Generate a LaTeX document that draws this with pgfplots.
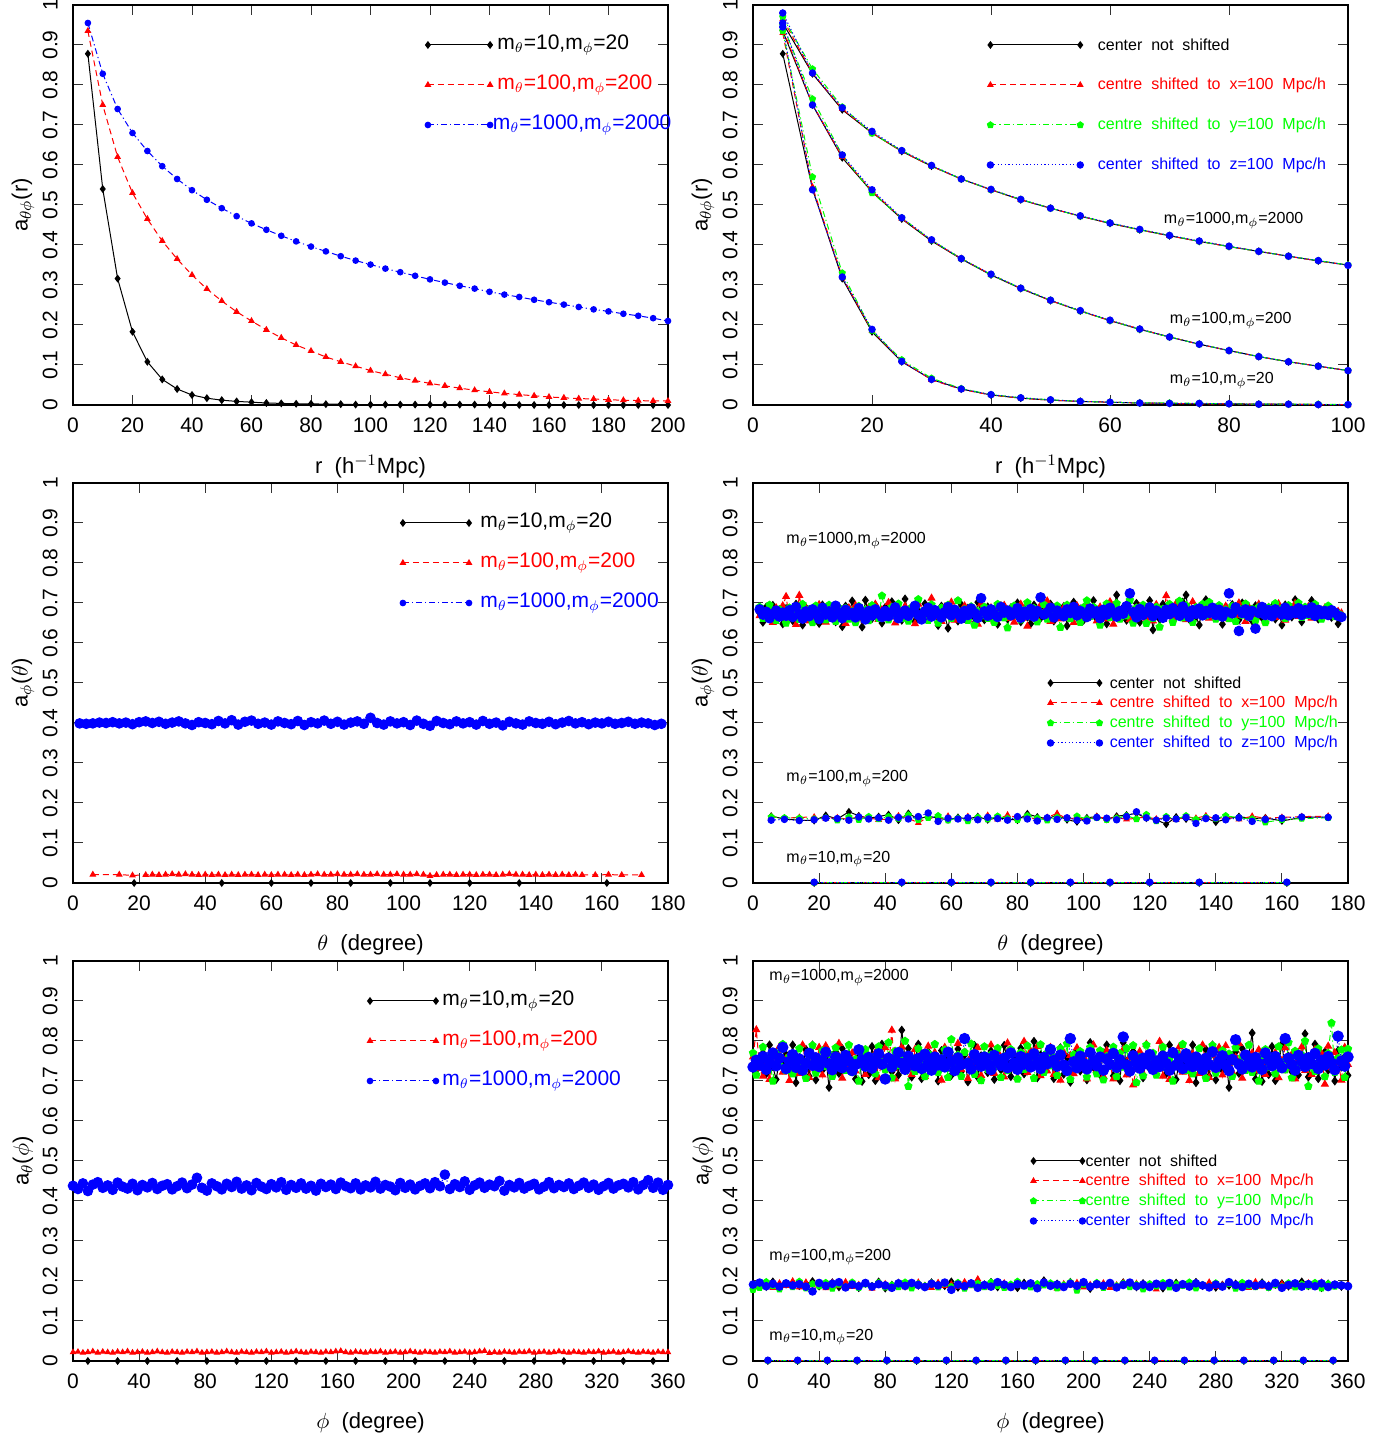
\documentclass[border=0pt]{standalone}
\usepackage{fontspec}
\setmainfont{Liberation Sans}
\usepackage{pgfplots}
\usepackage{pgfplotstable}
\pgfplotsset{compat=1.18}

% panel 1: a_thetaphi(r), r in h^-1 Mpc
\pgfplotstableread{
x k r b
5 .878 .935 .955
10 .540 .750 .828
15 .316 .620 .740
20 .183 .530 .680
25 .108 .465 .635
30 .064 .410 .597
35 .040 .365 .565
40 .025 .325 .537
45 .017 .290 .513
50 .012 .260 .492
55 .009 .233 .472
60 .007 .210 .454
65 .005 .188 .438
70 .004 .168 .423
75 .003 .150 .409
80 .003 .135 .396
85 .002 .120 .384
90 .002 .108 .372
95 .001 .097 .361
100 .001 .086 .351
105 .001 .077 .341
110 .001 .068 .332
115 .001 .061 .323
120 .001 .054 .314
125 .001 .048 .306
130 .001 .042 .298
135 .001 .037 .291
140 .001 .033 .283
145 .000 .029 .276
150 .000 .026 .270
155 .000 .023 .263
160 .000 .020 .257
165 .000 .018 .251
170 .000 .016 .245
175 .000 .015 .239
180 .000 .013 .234
185 .000 .012 .228
190 .000 .011 .223
195 .000 .010 .217
200 .000 .010 .210
}\rA

% panel 2: three mass groups, four centres each
\pgfplotstableread{
x k r g b
5 .955 .965 .970 .980
10 .828 .830 .840 .830
15 .738 .740 .745 .743
20 .680 .680 .679 .684
25 .634 .634 .636 .636
30 .597 .597 .598 .599
35 .565 .565 .565 .565
40 .538 .538 .538 .539
45 .513 .513 .514 .514
50 .492 .492 .492 .492
55 .472 .472 .472 .473
60 .454 .454 .455 .455
65 .438 .438 .438 .439
70 .423 .423 .424 .424
75 .409 .409 .409 .410
80 .396 .396 .396 .397
85 .384 .384 .384 .384
90 .372 .372 .372 .372
95 .360 .360 .361 .361
100 .350 .350 .350 .349
}\rBa
\pgfplotstableread{
x k r g b
5 .935 .940 .950 .955
10 .750 .752 .765 .750
15 .618 .620 .625 .625
20 .533 .535 .530 .538
25 .465 .466 .468 .468
30 .410 .411 .412 .413
35 .365 .366 .366 .366
40 .325 .326 .326 .327
45 .291 .292 .292 .292
50 .261 .261 .262 .262
55 .235 .235 .235 .236
60 .211 .211 .211 .212
65 .189 .190 .189 .190
70 .170 .170 .170 .170
75 .152 .152 .152 .152
80 .136 .136 .136 .136
85 .121 .121 .121 .121
90 .108 .108 .108 .108
95 .097 .097 .097 .097
100 .086 .086 .086 .086
}\rBb
\pgfplotstableread{
x k r g b
5 .878 .930 .935 .945
10 .540 .545 .570 .538
15 .316 .320 .330 .320
20 .183 .185 .186 .189
25 .108 .110 .113 .109
30 .064 .063 .067 .064
35 .040 .039 .041 .040
40 .025 .025 .026 .026
45 .017 .017 .018 .018
50 .012 .012 .013 .013
55 .009 .009 .009 .009
60 .007 .007 .007 .007
65 .005 .005 .005 .005
70 .004 .004 .005 .004
75 .003 .003 .004 .004
80 .003 .003 .003 .003
85 .002 .002 .002 .002
90 .002 .002 .002 .002
95 .001 .001 .002 .001
100 .001 .001 .001 .001
}\rBc

% panel 3: a_phi(theta)
\pgfplotstableread{
x b r
2 .399 nan
4 .398 nan
6 .399 .021
8 .401 nan
10 .400 nan
12 .402 nan
14 .399 .021
16 .401 nan
18 .397 .019
20 .402 nan
22 .404 .020
24 .400 .021
26 .403 .020
28 .398 .021
30 .401 .022
32 .404 .021
34 .399 .022
36 .395 .021
38 .402 .020
40 .400 .021
42 .397 .020
44 .405 .021
46 .399 .020
48 .407 .021
50 .396 .020
52 .403 .021
54 .406 .021
56 .398 .020
58 .401 .021
60 .396 .020
62 .404 .021
64 .400 .021
66 .397 .020
68 .405 .021
70 .395 .020
72 .402 .021
74 .399 .022
76 .406 .021
78 .398 .021
80 .403 .022
82 .396 .021
84 .401 .021
86 .404 .022
88 .398 .021
90 .413 .021
92 .400 .022
94 .396 .021
96 .404 .021
98 .399 .022
100 .402 .021
102 .395 .021
104 .406 .022
106 .398 .021
108 .393 .018
110 .405 .020
112 .400 .021
114 .397 .021
116 .404 .020
118 .399 .021
120 .402 .021
122 .396 .020
124 .405 .021
126 .398 .021
128 .401 .020
130 .394 .021
132 .403 .022
134 .399 .021
136 .396 .021
138 .404 .020
140 .400 .021
142 .398 .020
144 .403 .021
146 .397 .020
148 .401 .021
150 .405 .020
152 .399 .021
154 .402 .020
156 .397 nan
158 .401 .020
160 .399 nan
162 .403 .021
164 .398 nan
166 .400 .020
168 .403 nan
170 .398 nan
172 .401 .020
174 .399 nan
176 .395 nan
178 .398 nan
}\thC

% theta positions of the m=10 points (value ~0)
\pgfplotstableread{
x k r g b
18.5 0 .001 .001 .002
45 0 .001 .001 .002
60 0 .001 .001 .002
72 0 .001 .001 .002
84 0 .001 .001 .002
96 0 .001 .001 .002
108 0 .001 .001 .002
120 0 .001 .001 .002
135 0 .001 .001 .002
161.5 0 .001 .001 .002
}\thZ

% panel 4: m=1000 group
\pgfplotstableread{
x k r g b
2 .675 .668 .690 .684
3 .652 .681 .662 .671
4 .690 .660 .676 .678
5 .668 .675 .695 .662
6 .694 .651 .668 .673
7 .663 .688 .657 .681
8 .679 .670 .684 .666
9 .648 .693 .671 .676
10 .686 .716 .650 .668
11 .671 .662 .688 .682
12 .656 .680 .664 .665
13 .697 .646 .679 .690
14 .674 .719 .659 .672
15 .645 .672 .697 .661
16 .688 .687 .670 .679
17 .660 .655 .684 .667
18 .682 .679 .651 .684
19 .671 .664 .693 .674
20 .649 .696 .666 .660
21 .695 .670 .680 .688
22 .676 .652 .658 .671
23 .664 .684 .695 .679
24 .687 .667 .672 .664
25 .653 .691 .654 .693
26 .679 .660 .688 .676
27 .641 .678 .670 .662
28 .692 .649 .687 .683
29 .667 .688 .660 .670
30 .705 .671 .679 .675
31 .658 .694 .651 .664
32 .684 .662 .692 .687
33 .640 .680 .666 .672
34 .707 .655 .683 .659
35 .672 .689 .656 .680
36 .661 .668 .694 .669
37 .694 .697 .673 .684
38 .676 .659 .662 .673
39 .650 .683 .718 .665
40 .689 .666 .677 .680
41 .663 .701 .658 .667
42 .703 .677 .690 .676
43 .669 .650 .671 .689
44 .683 .686 .698 .662
45 .657 .663 .662 .674
46 .710 .692 .681 .681
47 .672 .669 .655 .668
48 .690 .682 .689 .677
49 .654 .648 .673 .693
50 .679 .697 .709 .670
51 .665 .674 .664 .659
52 .698 .658 .683 .679
53 .662 .688 .657 .688
54 .681 .712 .696 .666
55 .671 .665 .671 .682
56 .644 .679 .650 .673
57 .692 .654 .688 .664
58 .668 .690 .675 .677
59 .637 .670 .695 .690
60 .685 .702 .662 .669
61 .673 .657 .680 .683
62 .655 .681 .706 .674
63 .696 .668 .666 .661
64 .661 .693 .684 .680
65 .687 .659 .657 .670
66 .670 .685 .691 .686
67 .649 .671 .645 .675
68 .702 .647 .679 .663
69 .676 .698 .668 .712
70 .658 .676 .690 .679
71 .690 .663 .662 .668
72 .666 .688 .681 .684
73 .681 .655 .652 .672
74 .647 .682 .697 .665
75 .693 .670 .674 .690
76 .672 .694 .663 .676
77 .660 .661 .638 .681
78 .688 .685 .685 .669
79 .671 .652 .693 .674
80 .700 .677 .670 .687
81 .653 .697 .658 .663
82 .684 .666 .682 .678
83 .665 .642 .701 .670
84 .648 .688 .667 .685
85 .695 .673 .687 .666
86 .674 .660 .653 .680
87 .662 .695 .676 .714
88 .686 .678 .696 .671
89 .670 .705 .660 .676
90 .697 .654 .683 .688
91 .655 .686 .668 .664
92 .680 .671 .693 .681
93 .668 .660 .639 .672
94 .691 .689 .677 .667
95 .643 .665 .695 .684
96 .678 .682 .661 .675
97 .702 .651 .683 .690
98 .664 .693 .671 .669
99 .685 .676 .652 .680
100 .657 .663 .689 .673
101 .693 .700 .706 .665
102 .671 .670 .667 .686
103 .706 .682 .690 .674
104 .660 .655 .671 .679
105 .682 .690 .645 .662
106 .667 .672 .684 .683
107 .648 .660 .698 .671
108 .694 .703 .664 .688
109 .677 .647 .686 .676
110 .720 .688 .699 .666
111 .663 .666 .660 .680
112 .689 .684 .681 .673
113 .657 .697 .668 .692
114 .681 .658 .707 .724
115 .670 .679 .650 .677
116 .699 .664 .688 .664
117 .652 .691 .671 .685
118 .684 .675 .695 .670
119 .668 .662 .649 .678
120 .706 .686 .686 .689
121 .633 .655 .662 .667
122 .685 .696 .690 .681
123 .660 .671 .640 .674
124 .697 .659 .685 .663
125 .673 .718 .672 .683
126 .688 .680 .697 .672
127 .655 .661 .652 .687
128 .692 .699 .680 .676
129 .671 .667 .705 .668
130 .702 .694 .663 .691
131 .720 .658 .694 .679
132 .659 .684 .676 .665
133 .681 .703 .652 .682
134 .666 .672 .689 .673
135 .645 .688 .671 .686
136 .689 .670 .697 .669
137 .708 .686 .668 .680
138 .676 .662 .702 .675
139 .691 .679 .680 .688
140 .668 .674 .660 .670
141 .672 .681 .694 .683
142 .647 .675 .670 .666
143 .685 .692 .683 .678
144 .664 .660 .661 .724
145 .696 .687 .692 .674
146 .674 .668 .654 .689
147 .658 .700 .687 .630
148 .700 .673 .670 .675
149 .669 .654 .698 .684
150 .687 .690 .664 .668
151 .655 .677 .685 .680
152 .693 .664 .656 .636
153 .678 .697 .690 .675
154 .663 .671 .673 .690
155 .688 .655 .651 .670
156 .671 .689 .689 .682
157 .690 .676 .666 .667
158 .660 .664 .699 .684
159 .683 .698 .675 .676
160 .645 .670 .687 .671
161 .695 .657 .662 .688
162 .677 .689 .694 .669
163 .665 .675 .671 .680
164 .708 .699 .683 .674
165 .672 .666 .700 .687
166 .653 .684 .664 .670
167 .686 .670 .690 .682
168 .669 .691 .669 .675
169 .706 .662 .685 .689
170 .678 .680 .697 .668
171 .660 .671 .673 .683
172 .682 .676 .660 .672
173 .671 .688 .684 .680
174 .690 .668 .693 .670
175 .664 .680 .672 .682
176 .676 .673 .666 .676
177 .648 .679 .674 .668
178 .670 .675 .669 .665
}\thA

% panel 4: m=100 group
\pgfplotstableread{
x k r g b
5.5 .167 .166 .165 .157
9.5 .160 .162 .163 .159
14 .157 .164 .162 .156
18.5 .156 .165 .160 .158
22 .169 .161 .163 .162
25.5 .160 .163 .157 .161
29 .178 .159 .165 .157
32 .168 .166 .158 .165
35 .162 .163 .166 .160
38 .166 .158 .160 .163
41 .171 .160 .166 .157
44 .157 .168 .161 .164
47 .174 .162 .170 .160
50 .160 .150 .158 .166
53 .167 .165 .163 .175
56 .162 .158 .168 .154
59 .158 .167 .157 .162
62 .164 .161 .162 .160
65 .160 .166 .155 .163
68 .166 .160 .164 .158
71 .158 .169 .159 .164
74 .163 .159 .167 .161
77 .160 .170 .161 .157
80 .157 .163 .158 .166
83 .173 .165 .168 .160
86 .165 .159 .162 .155
89 .161 .164 .157 .163
92 .169 .174 .164 .159
95 .158 .160 .161 .163
98 .153 .163 .167 .157
101 .163 .158 .160 .155
104 .166 .166 .163 .164
107 .159 .161 .158 .162
110 .167 .164 .162 .158
113 .170 .159 .168 .166
116 .174 .162 .160 .178
119 .162 .165 .171 .163
122 .158 .160 .155 .157
125 .147 .163 .166 .162
128 .165 .158 .160 .160
131 .160 .166 .168 .164
134 .156 .162 .159 .149
137 .163 .168 .164 .161
140 .152 .160 .161 .163
143 .160 .165 .168 .158
147 .166 .159 .163 .163
151 .161 .167 .160 .154
155 .163 .162 .152 .159
160 .155 .164 .158 .162
166 .164 .166 .161 .165
174 .165 .167 .163 .164
}\thB

% panel 5: a_theta(phi)
\pgfplotstableread{
x b r
0 .438 .022
3 .430 .023
6 .444 .021
9 .425 .022
12 .441 .024
15 .447 .021
18 .433 .023
21 .439 .022
24 .428 .021
27 .446 .023
30 .436 .022
33 .431 .024
36 .443 .021
39 .427 .022
42 .440 .023
45 .434 .021
48 .445 .022
51 .430 .024
54 .438 .022
57 .442 .021
60 .429 .023
63 .437 .022
66 .446 .021
69 .432 .023
72 .441 .022
75 .458 .024
78 .433 .021
81 .426 .022
84 .444 .023
87 .437 .021
90 .429 .022
93 .443 .024
96 .435 .022
99 .448 .021
102 .431 .023
105 .439 .022
108 .427 .021
111 .445 .023
114 .436 .022
117 .430 .024
120 .442 .021
123 .434 .022
126 .447 .023
129 .428 .021
132 .440 .022
135 .433 .024
138 .444 .022
141 .431 .021
144 .438 .023
147 .426 .022
150 .443 .021
153 .435 .023
156 .441 .022
159 .430 .024
162 .446 .025
165 .437 .022
168 .432 .021
171 .444 .023
174 .429 .022
177 .439 .021
180 .434 .023
183 .448 .022
186 .431 .024
189 .440 .021
192 .436 .022
195 .427 .023
198 .445 .021
201 .433 .022
204 .441 .024
207 .429 .022
210 .438 .021
213 .444 .023
216 .432 .022
219 .447 .021
222 .437 .023
225 .466 .022
228 .430 .024
231 .442 .021
234 .435 .022
237 .449 .023
240 .428 .021
243 .439 .022
246 .446 .024
249 .433 .025
252 .441 .020
255 .437 .022
258 .450 .021
261 .426 .023
264 .440 .022
267 .434 .021
270 .445 .023
273 .431 .022
276 .438 .024
279 .443 .021
282 .429 .022
285 .436 .023
288 .447 .021
291 .432 .022
294 .440 .024
297 .435 .022
300 .444 .021
303 .430 .023
306 .438 .022
309 .446 .021
312 .433 .023
315 .441 .022
318 .428 .024
321 .437 .021
324 .445 .022
327 .431 .023
330 .439 .021
333 .443 .022
336 .434 .024
339 .447 .022
342 .429 .021
345 .440 .023
348 .452 .022
351 .433 .021
354 .446 .023
357 .428 .022
360 .440 .022
}\phC

% phi positions of the m=10 points (value ~0)
\pgfplotstableread{
x k r g b
9 0 .001 .001 .002
27 0 .001 .001 .002
45 0 .001 .001 .002
63 0 .001 .001 .002
81 0 .001 .001 .002
99 0 .001 .001 .002
117 0 .001 .001 .002
135 0 .001 .001 .002
153 0 .001 .001 .002
171 0 .001 .001 .002
189 0 .001 .001 .002
207 0 .001 .001 .002
225 0 .001 .001 .002
243 0 .001 .001 .002
261 0 .001 .001 .002
279 0 .001 .001 .002
297 0 .001 .001 .002
315 0 .001 .001 .002
333 0 .001 .001 .002
351 0 .001 .001 .002
}\phZ

% panel 6: m=1000 group
\pgfplotstableread{
x k r g b
0 .742 .760 .770 .735
2 .728 .828 .715 .752
4 .755 .731 .748 .740
6 .770 .712 .785 .761
8 .718 .749 .733 .729
10 .790 .704 .756 .748
12 .736 .772 .700 .770
14 .704 .741 .770 .738
16 .752 .786 .739 .757
18 .741 .722 .792 .784
20 .766 .757 .726 .731
22 .729 .701 .761 .749
24 .790 .768 .718 .766
26 .696 .735 .752 .734
28 .758 .719 .781 .755
30 .733 .790 .744 .727
32 .779 .745 .707 .744
34 .712 .709 .765 .769
36 .790 .764 .789 .739
38 .703 .730 .720 .758
40 .748 .784 .752 .736
42 .727 .715 .776 .751
44 .761 .788 .737 .772
46 .684 .740 .768 .743
48 .750 .722 .712 .728
50 .773 .759 .783 .760
52 .719 .794 .741 .745
54 .781 .707 .760 .733
56 .738 .743 .727 .764
58 .765 .736 .790 .750
60 .745 .770 .722 .726
62 .705 .725 .754 .741
64 .760 .778 .700 .778
66 .699 .744 .764 .753
68 .749 .716 .779 .737
70 .716 .763 .735 .759
72 .786 .738 .760 .732
74 .701 .771 .718 .748
76 .744 .708 .786 .768
78 .792 .751 .747 .742
80 .730 .783 .728 .705
82 .762 .732 .796 .757
84 .723 .827 .708 .735
86 .771 .705 .775 .752
88 .715 .753 .738 .771
90 .827 .785 .765 .744
92 .755 .726 .800 .729
94 .781 .760 .687 .762
96 .710 .716 .758 .747
98 .750 .779 .724 .738
100 .792 .743 .781 .756
102 .706 .769 .744 .731
104 .744 .711 .711 .767
106 .773 .787 .769 .746
108 .727 .733 .731 .727
110 .758 .771 .792 .760
112 .700 .747 .722 .740
114 .776 .702 .757 .753
116 .735 .784 .778 .735
118 .760 .741 .709 .772
120 .714 .759 .804 .749
122 .751 .722 .733 .726
124 .780 .794 .765 .758
126 .723 .729 .712 .741
128 .765 .772 .772 .806
130 .698 .706 .740 .745
132 .745 .762 .793 .730
134 .789 .739 .717 .766
136 .709 .783 .758 .751
138 .763 .714 .701 .737
140 .742 .757 .786 .760
142 .721 .736 .729 .744
144 .775 .790 .766 .728
146 .704 .719 .737 .764
148 .752 .773 .782 .748
150 .728 .744 .709 .739
152 .789 .710 .761 .757
154 .747 .795 .726 .733
156 .711 .730 .779 .770
158 .760 .768 .747 .745
160 .733 .709 .705 .729
162 .782 .755 .771 .761
164 .718 .799 .729 .742
166 .756 .721 .788 .756
168 .738 .775 .744 .735
170 .799 .740 .707 .768
172 .708 .786 .763 .747
174 .765 .713 .791 .731
176 .726 .762 .722 .759
178 .748 .725 .770 .743
180 .771 .784 .738 .779
182 .706 .716 .759 .752
184 .745 .752 .714 .737
186 .783 .702 .781 .765
188 .717 .771 .736 .740
190 .759 .735 .793 .726
192 .697 .764 .704 .806
194 .741 .718 .766 .748
196 .776 .783 .731 .733
198 .725 .731 .774 .762
200 .757 .761 .745 .744
202 .703 .705 .710 .730
204 .796 .767 .784 .771
206 .734 .790 .743 .749
208 .752 .727 .718 .738
210 .716 .756 .776 .760
212 .770 .712 .703 .727
214 .790 .776 .762 .755
216 .739 .742 .737 .742
218 .713 .705 .785 .769
220 .767 .761 .711 .734
222 .701 .733 .769 .753
224 .796 .779 .735 .810
226 .748 .715 .782 .740
228 .720 .760 .724 .725
230 .774 .690 .789 .763
232 .740 .735 .696 .746
234 .762 .774 .760 .732
236 .708 .719 .713 .757
238 .755 .792 .790 .743
240 .731 .745 .758 .766
242 .752 .760 .770 .729
244 .728 .728 .715 .750
246 .755 .799 .748 .736
248 .770 .712 .785 .762
250 .718 .749 .733 .744
252 .790 .704 .756 .727
254 .736 .772 .700 .771
256 .704 .741 .770 .740
258 .752 .786 .739 .755
260 .741 .722 .792 .731
262 .766 .757 .726 .768
264 .729 .701 .761 .749
266 .790 .768 .718 .736
268 .696 .735 .752 .760
270 .758 .719 .781 .745
272 .733 .790 .744 .728
274 .779 .745 .707 .757
276 .712 .709 .765 .741
278 .790 .764 .789 .773
280 .703 .730 .720 .734
282 .748 .784 .752 .750
284 .727 .715 .776 .763
286 .761 .788 .737 .739
288 .684 .740 .768 .726
290 .750 .722 .712 .754
292 .773 .759 .783 .803
294 .719 .794 .741 .742
296 .781 .707 .760 .730
298 .738 .743 .727 .765
300 .765 .736 .790 .748
302 .820 .770 .722 .735
304 .705 .725 .754 .759
306 .760 .778 .700 .744
308 .699 .744 .764 .729
310 .749 .716 .779 .770
312 .716 .763 .735 .752
314 .786 .738 .760 .738
316 .701 .771 .718 .761
318 .744 .708 .786 .746
320 .792 .751 .747 .733
322 .730 .783 .728 .806
324 .762 .732 .796 .757
326 .723 .767 .708 .741
328 .771 .705 .775 .727
330 .715 .753 .738 .764
332 .755 .785 .765 .749
334 .818 .726 .800 .736
336 .710 .760 .687 .758
338 .750 .716 .758 .743
340 .792 .779 .724 .769
342 .706 .743 .781 .731
344 .744 .769 .744 .752
346 .773 .692 .711 .740
348 .727 .787 .769 .761
350 .758 .733 .845 .745
352 .700 .771 .722 .728
354 .776 .747 .757 .812
356 .735 .702 .778 .750
358 .760 .784 .709 .737
360 .714 .741 .780 .760
}\phA

% panel 6: m=100 group
\pgfplotstableread{
x k r g b
0 .188 .192 .178 .191
4 .194 .186 .183 .196
8 .185 .190 .198 .187
12 .199 .183 .188 .193
16 .183 .195 .179 .186
20 .191 .188 .195 .194
24 .196 .200 .185 .189
28 .187 .184 .199 .192
32 .193 .197 .182 .186
36 .200 .189 .193 .174
40 .186 .193 .187 .195
44 .192 .182 .196 .188
48 .197 .196 .181 .193
52 .184 .187 .191 .197
56 .190 .198 .186 .184
60 .195 .185 .197 .191
64 .182 .191 .183 .187
68 .193 .194 .192 .195
72 .188 .181 .187 .186
76 .199 .189 .196 .192
80 .181 .193 .184 .189
84 .191 .186 .190 .183
88 .196 .195 .185 .194
92 .186 .184 .197 .188
96 .193 .192 .182 .195
100 .188 .197 .193 .190
104 .184 .189 .188 .185
108 .197 .183 .195 .193
112 .191 .196 .184 .189
116 .187 .188 .193 .196
120 .199 .192 .186 .178
124 .183 .185 .196 .191
128 .190 .198 .181 .187
132 .195 .187 .190 .194
136 .186 .205 .194 .183
140 .192 .184 .185 .190
144 .198 .193 .197 .186
148 .184 .189 .188 .197
152 .193 .195 .183 .191
156 .188 .182 .192 .185
160 .182 .191 .199 .192
164 .196 .187 .187 .189
168 .190 .194 .184 .194
172 .185 .186 .193 .182
176 .202 .197 .189 .196
180 .189 .188 .195 .188
184 .194 .181 .182 .191
188 .187 .193 .190 .185
192 .198 .189 .197 .193
196 .183 .196 .176 .188
200 .192 .184 .191 .197
204 .180 .191 .186 .186
208 .195 .187 .196 .192
212 .188 .195 .183 .188
216 .193 .183 .193 .195
220 .186 .190 .188 .184
224 .197 .196 .194 .190
228 .190 .188 .185 .196
232 .184 .194 .191 .187
236 .195 .186 .179 .191
240 .187 .192 .193 .185
244 .193 .179 .187 .193
248 .181 .189 .196 .188
252 .189 .195 .184 .195
256 .196 .184 .192 .183
260 .190 .191 .188 .192
264 .185 .186 .197 .186
268 .198 .193 .182 .194
272 .187 .188 .191 .189
276 .193 .197 .186 .184
280 .183 .185 .195 .191
284 .191 .190 .187 .186
288 .188 .194 .193 .197
292 .194 .187 .181 .190
296 .186 .192 .196 .185
300 .192 .183 .188 .193
304 .189 .198 .185 .188
308 .197 .186 .194 .192
312 .184 .191 .183 .187
316 .190 .187 .190 .195
320 .195 .193 .186 .183
324 .186 .185 .195 .190
328 .193 .190 .184 .194
332 .199 .188 .192 .186
336 .187 .195 .187 .192
340 .192 .184 .196 .187
344 .182 .197 .182 .194
348 .194 .189 .193 .185
352 .189 .192 .186 .191
356 .185 .188 .190 .189
360 .190 .191 .188 .187
}\phB

\pgfplotsset{
  panel/.style={
    scale only axis, width=297.5pt, height=200pt, anchor=south west,
    ymin=0, ymax=1,
    ytick={0,0.1,0.2,0.3,0.4,0.5,0.6,0.7,0.8,0.9,1},
    yticklabels={0,0.1,0.2,0.3,0.4,0.5,0.6,0.7,0.8,0.9,1},
    tick align=inside, tick pos=both,
    major tick length=5pt,
    tick style={line width=0.5pt, black!80},
    axis line style={line width=0.6pt, black},
    ticklabel style={font=\fontsize{10.5}{12}\selectfont},
    xticklabel style={anchor=north, inner sep=0pt},
    yticklabel style={rotate=90, anchor=south, inner sep=0pt},
    xticklabel shift=6pt, yticklabel shift=7.5pt,
    /pgf/number format/assume math mode=true,
    scaled ticks=false,
    xlabel style={at={(axis description cs:0.5,-0.155)}, anchor=center,
      font=\fontsize{11}{13}\selectfont},
    ylabel style={at={(axis description cs:-0.084,0.5)}, anchor=center,
      font=\fontsize{11}{13}\selectfont},
    clip=false,
  },
  sk/.style={black, solid, line width=0.5pt, mark=diamond*, mark size=1.6pt,
    mark options={solid, fill=black}},
  sr/.style={red, dash pattern=on 3pt off 2pt, line width=0.5pt, mark=triangle*,
    mark size=1.5pt, mark options={solid, fill=red}},
  sg/.style={green, dash pattern=on 3pt off 1.5pt on 0.6pt off 1.5pt, line width=0.5pt,
    mark=pentagon*, mark size=1.6pt, mark options={solid, fill=green}},
  sb/.style={blue, dash pattern=on 0.6pt off 1.2pt, line width=0.5pt, mark=*,
    mark size=1.6pt, mark options={solid, fill=blue}},
  sbl/.style={blue, dash pattern=on 3pt off 1.5pt on 0.6pt off 1.5pt, line width=0.5pt,
    mark=*, mark size=1.4pt, mark options={solid, fill=blue}},
  big/.style={mark size=1.9pt},
}
\tikzset{
  lbl/.style={anchor=west, inner sep=0pt, font=\fontsize{10.5}{12}\selectfont},
  sml/.style={anchor=west, inner sep=0pt, font=\fontsize{8}{10}\selectfont},
}

\begin{document}
\begin{tikzpicture}
\useasboundingbox (0,0) rectangle (698pt,719.5pt);

% ---- row 1, left
\begin{axis}[panel, at={(36.5pt,517pt)},
  xmin=0, xmax=200, xtick={0,20,...,200},
  xlabel={r\ \ (h$^{-1}$Mpc)}, ylabel={a$_{\theta\phi}$(r)}]
\addplot[sk] table[x=x,y=k] {\rA};
\addplot[sr] table[x=x,y=r] {\rA};
\addplot[sbl] table[x=x,y=b] {\rA};
\addplot[sk] coordinates {(119.3,0.9) (140.2,0.9)};
\addplot[sr] coordinates {(119.3,0.8) (140.2,0.8)};
\addplot[sbl] coordinates {(119.3,0.7) (140.2,0.7)};
\node[lbl] at (axis cs:142.5,0.9) {m$_\theta$=10,m$_\phi$=20};
\node[lbl, text=red] at (axis cs:142.5,0.8) {m$_\theta$=100,m$_\phi$=200};
\node[lbl, text=blue] at (axis cs:141,0.7) {m$_\theta$=1000,m$_\phi$=2000};
\end{axis}

% ---- row 1, right
\begin{axis}[panel, at={(376.5pt,517pt)},
  xmin=0, xmax=100, xtick={0,20,...,100},
  xlabel={r\ \ (h$^{-1}$Mpc)}, ylabel={a$_{\theta\phi}$(r)}]
\addplot[sk] table[x=x,y=k] {\rBa};
\addplot[sk] table[x=x,y=k] {\rBb};
\addplot[sk] table[x=x,y=k] {\rBc};
\addplot[sr] table[x=x,y=r] {\rBa};
\addplot[sr] table[x=x,y=r] {\rBb};
\addplot[sr] table[x=x,y=r] {\rBc};
\addplot[sg] table[x=x,y=g] {\rBa};
\addplot[sg] table[x=x,y=g] {\rBb};
\addplot[sg] table[x=x,y=g] {\rBc};
\addplot[sb] table[x=x,y=b] {\rBa};
\addplot[sb] table[x=x,y=b] {\rBb};
\addplot[sb] table[x=x,y=b] {\rBc};
\addplot[sk] coordinates {(39.9,0.9) (55,0.9)};
\addplot[sr] coordinates {(39.9,0.8) (55,0.8)};
\addplot[sg] coordinates {(39.9,0.7) (55,0.7)};
\addplot[sb] coordinates {(39.9,0.6) (55,0.6)};
\node[sml] at (axis cs:57.9,0.9) {center\ \ not\ \ shifted};
\node[sml, text=red] at (axis cs:57.9,0.8) {centre\ \ shifted\ \ to\ \ x=100\ \ Mpc/h};
\node[sml, text=green] at (axis cs:57.9,0.7) {centre\ \ shifted\ \ to\ \ y=100\ \ Mpc/h};
\node[sml, text=blue] at (axis cs:57.9,0.6) {center\ \ shifted\ \ to\ \ z=100\ \ Mpc/h};
\node[sml] at (axis cs:69,0.46) {m$_\theta$=1000,m$_\phi$=2000};
\node[sml] at (axis cs:70,0.21) {m$_\theta$=100,m$_\phi$=200};
\node[sml] at (axis cs:70,0.06) {m$_\theta$=10,m$_\phi$=20};
\end{axis}

% ---- row 2, left
\begin{axis}[panel, at={(36.5pt,278pt)},
  xmin=0, xmax=180, xtick={0,20,...,180},
  xlabel={$\theta$\ \ (degree)}, ylabel={a$_{\phi}$($\theta$)}]
\addplot[sk] table[x=x,y=k] {\thZ};
\addplot[sr] table[x=x,y=r] {\thC};
\addplot[sbl, mark size=2.4pt] table[x=x,y=b] {\thC};
\addplot[sk] coordinates {(99.8,0.9) (119.8,0.9)};
\addplot[sr] coordinates {(99.8,0.8) (119.8,0.8)};
\addplot[sbl] coordinates {(99.8,0.7) (119.8,0.7)};
\node[lbl] at (axis cs:123.1,0.9) {m$_\theta$=10,m$_\phi$=20};
\node[lbl, text=red] at (axis cs:123.1,0.8) {m$_\theta$=100,m$_\phi$=200};
\node[lbl, text=blue] at (axis cs:123.1,0.7) {m$_\theta$=1000,m$_\phi$=2000};
\end{axis}

% ---- row 2, right
\begin{axis}[panel, at={(376.5pt,278pt)},
  xmin=0, xmax=180, xtick={0,20,...,180},
  xlabel={$\theta$\ \ (degree)}, ylabel={a$_{\phi}$($\theta$)}]
\addplot[sk, big] table[x=x,y=k] {\thA};
\addplot[sk] table[x=x,y=k] {\thB};
\addplot[sk] table[x=x,y=k] {\thZ};
\addplot[sr, big] table[x=x,y=r] {\thA};
\addplot[sr] table[x=x,y=r] {\thB};
\addplot[sr] table[x=x,y=r] {\thZ};
\addplot[sg, big] table[x=x,y=g] {\thA};
\addplot[sg] table[x=x,y=g] {\thB};
\addplot[sg] table[x=x,y=g] {\thZ};
\addplot[sb, mark size=2.4pt] table[x=x,y=b] {\thA};
\addplot[sb] table[x=x,y=b] {\thB};
\addplot[sb] table[x=x,y=b] {\thZ};
\addplot[sk] coordinates {(90,0.5) (104.8,0.5)};
\addplot[sr] coordinates {(90,0.45) (104.8,0.45)};
\addplot[sg] coordinates {(90,0.4) (104.8,0.4)};
\addplot[sb] coordinates {(90,0.35) (104.8,0.35)};
\node[sml] at (axis cs:107.8,0.5) {center\ \ not\ \ shifted};
\node[sml, text=red] at (axis cs:107.8,0.45) {centre\ \ shifted\ \ to\ \ x=100\ \ Mpc/h};
\node[sml, text=green] at (axis cs:107.8,0.4) {centre\ \ shifted\ \ to\ \ y=100\ \ Mpc/h};
\node[sml, text=blue] at (axis cs:107.8,0.35) {center\ \ shifted\ \ to\ \ z=100\ \ Mpc/h};
\node[sml] at (axis cs:10,0.857) {m$_\theta$=1000,m$_\phi$=2000};
\node[sml] at (axis cs:10,0.26) {m$_\theta$=100,m$_\phi$=200};
\node[sml] at (axis cs:10,0.06) {m$_\theta$=10,m$_\phi$=20};
\end{axis}

% ---- row 3, left
\begin{axis}[panel, at={(36.5pt,39pt)},
  xmin=0, xmax=360, xtick={0,40,...,360},
  xlabel={$\phi$\ \ (degree)}, ylabel={a$_{\theta}$($\phi$)}]
\addplot[sk] table[x=x,y=k] {\phZ};
\addplot[sr, mark size=1.4pt] table[x=x,y=r] {\phC};
\addplot[sbl, mark size=2.4pt] table[x=x,y=b] {\phC};
\addplot[sk] coordinates {(179.7,0.9) (219.6,0.9)};
\addplot[sr] coordinates {(179.7,0.8) (219.6,0.8)};
\addplot[sbl] coordinates {(179.7,0.7) (219.6,0.7)};
\node[lbl] at (axis cs:223.3,0.9) {m$_\theta$=10,m$_\phi$=20};
\node[lbl, text=red] at (axis cs:223.3,0.8) {m$_\theta$=100,m$_\phi$=200};
\node[lbl, text=blue] at (axis cs:223.3,0.7) {m$_\theta$=1000,m$_\phi$=2000};
\end{axis}

% ---- row 3, right
\begin{axis}[panel, at={(376.5pt,39pt)},
  xmin=0, xmax=360, xtick={0,40,...,360},
  xlabel={$\phi$\ \ (degree)}, ylabel={a$_{\theta}$($\phi$)}]
\addplot[sk, big] table[x=x,y=k] {\phA};
\addplot[sk] table[x=x,y=k] {\phB};
\addplot[sk] table[x=x,y=k] {\phZ};
\addplot[sr, big] table[x=x,y=r] {\phA};
\addplot[sr] table[x=x,y=r] {\phB};
\addplot[sr] table[x=x,y=r] {\phZ};
\addplot[sg, big] table[x=x,y=g] {\phA};
\addplot[sg] table[x=x,y=g] {\phB};
\addplot[sg] table[x=x,y=g] {\phZ};
\addplot[sb, mark size=2.6pt] table[x=x,y=b] {\phA};
\addplot[sb, big] table[x=x,y=b] {\phB};
\addplot[sb] table[x=x,y=b] {\phZ};
\addplot[sk] coordinates {(169.7,0.5) (199.3,0.5)};
\addplot[sr] coordinates {(169.7,0.45) (199.3,0.45)};
\addplot[sg] coordinates {(169.7,0.4) (199.3,0.4)};
\addplot[sb] coordinates {(169.7,0.35) (199.3,0.35)};
\node[sml] at (axis cs:201,0.5) {center\ \ not\ \ shifted};
\node[sml, text=red] at (axis cs:201,0.45) {centre\ \ shifted\ \ to\ \ x=100\ \ Mpc/h};
\node[sml, text=green] at (axis cs:201,0.4) {centre\ \ shifted\ \ to\ \ y=100\ \ Mpc/h};
\node[sml, text=blue] at (axis cs:201,0.35) {center\ \ shifted\ \ to\ \ z=100\ \ Mpc/h};
\node[sml] at (axis cs:9.7,0.958) {m$_\theta$=1000,m$_\phi$=2000};
\node[sml] at (axis cs:9.7,0.26) {m$_\theta$=100,m$_\phi$=200};
\node[sml] at (axis cs:9.7,0.06) {m$_\theta$=10,m$_\phi$=20};
\end{axis}
\end{tikzpicture}
\end{document}
